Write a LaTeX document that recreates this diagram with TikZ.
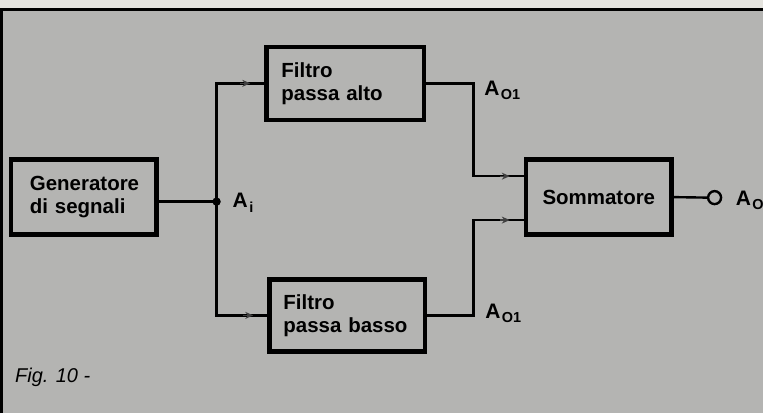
\documentclass[tikz,border=0pt]{standalone}
\usepackage{fontspec}
\setmainfont{Liberation Sans}
\usetikzlibrary{calc,arrows.meta}
\definecolor{paper}{HTML}{B4B4B2}
\definecolor{margin}{HTML}{E4E3DE}
\begin{document}
\begin{tikzpicture}[x=1pt,y=-1pt,
  box/.style={draw=black, line width=4.5pt, fill=paper, rectangle,
    font=\bfseries\fontsize{20.5pt}{23pt}\selectfont, inner ysep=2pt},
  conn/.style={line width=2.4pt, draw=black},
  tipmark/.style={-{Stealth[length=8pt,width=7pt]}, line width=1.2pt, draw=black!75},
  lab/.style={font=\bfseries\fontsize{21pt}{23pt}\selectfont, inner sep=0pt, anchor=base west},
  sub/.style={font=\bfseries\fontsize{14.5pt}{15pt}\selectfont, inner sep=0pt, anchor=base west}]
% background and frame
\fill[margin] (0,0) rectangle (764,414);
\fill[paper] (2,10) rectangle (764,414);
\draw[line width=3pt] (2,414) -- (2,10) -- (764,10);
\useasboundingbox (0,0) rectangle (764,414);

% blocks
\node[box, minimum width=146pt, minimum height=75pt, inner xsep=19pt, text width=108pt, align=left]
  (gen) at (84,197.5) {Generatore\\di segnali};
\node[box, minimum width=158pt, minimum height=73pt, inner xsep=15pt, text width=128pt, align=left]
  (alto) at (346,83.5) {Filtro\\passa alto};
\node[box, minimum width=156pt, minimum height=72pt, inner xsep=14pt, text width=128pt, align=left]
  (basso) at (348,316) {Filtro\\passa basso};
\node[box, minimum width=146pt, minimum height=75pt, align=center]
  (som) at (600,197.5) {Sommatore};

% junction and output
\coordinate (J) at (217,202);
\coordinate (in1) at ($(som.west)+(0,-21)$);
\coordinate (in2) at ($(som.west)+(0,23)$);
\node[draw, circle, line width=2.4pt, minimum size=13pt, inner sep=0pt, fill=paper] (out) at (716,198) {};

% connectors
\draw[conn] (J -| gen.east) -- (J);
\draw[conn] (J) |- (alto.west);
\draw[conn] (J) |- (basso.west);
\draw[conn] (alto.east) -- ++(47,0) |- (in1);
\draw[conn] (basso.east) -- ++(46,0) |- (in2);
\draw[conn] (som.east) -- (out.west);
\fill (J) circle (4.2pt);

% small arrow marks
\draw[tipmark] ($(alto.west)+(-24,0)$) -- ++(10,0);
\draw[tipmark] ($(basso.west)+(-24,0)$) -- ++(10,0);
\draw[tipmark] ($(in1)+(-24,0)$) -- ++(10,0);
\draw[tipmark] ($(in2)+(-24,0)$) -- ++(10,0);

% labels
\node[lab] (ai) at (233,208) {A};
\node[sub] (ais) at ($(ai.base east)+(1,5)$) {i};
\node[lab] (ao1) at (485,96) {A};
\node[sub] (ao1s) at ($(ao1.base east)+(1,4)$) {O1};
\node[lab] (ao2) at (486,319) {A};
\node[sub] (ao2s) at ($(ao2.base east)+(1,4)$) {O1};
\node[lab] (ao) at (737,206) {A};
\node[sub] (aos) at ($(ao.base east)+(1,4)$) {O};
\node[font=\itshape\fontsize{20pt}{22pt}\selectfont, inner sep=0pt, anchor=base west] (fig) at (15,383) {Fig. 10 -};
\end{tikzpicture}
\end{document}
